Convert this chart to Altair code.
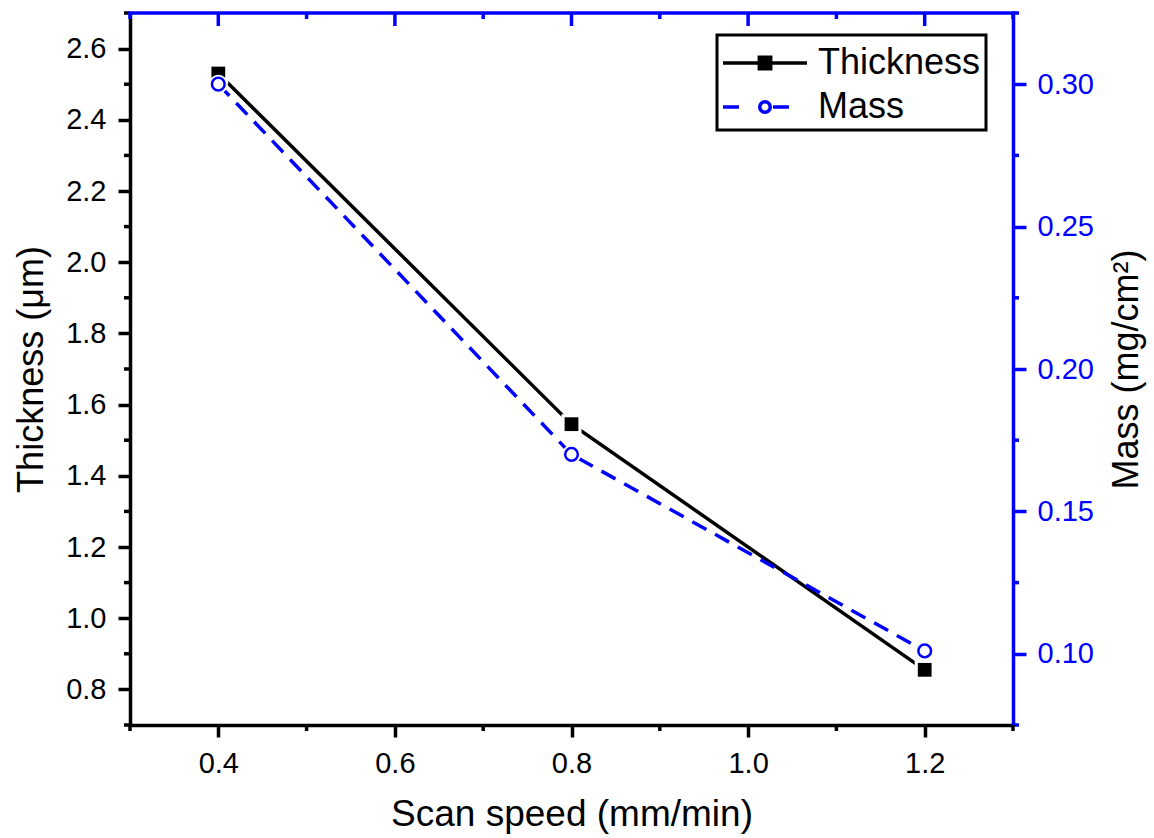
import altair as alt
import pandas as pd

# ---- data ----
scan_speed = [0.4, 0.8, 1.2]
thickness = [2.53, 1.545, 0.855]
mass = [0.300, 0.170, 0.101]
series_names = ["Thickness", "Mass"]

x_ticks = [0.4, 0.6, 0.8, 1.0, 1.2]
x_minor = [0.3, 0.5, 0.7, 0.9, 1.1, 1.3]
y_left_ticks = [0.8, 1.0, 1.2, 1.4, 1.6, 1.8, 2.0, 2.2, 2.4, 2.6]
y_left_minor = [0.7, 0.9, 1.1, 1.3, 1.5, 1.7, 1.9, 2.1, 2.3, 2.5, 2.7]
y_right_ticks = [0.10, 0.15, 0.20, 0.25, 0.30]
y_right_minor = [0.075, 0.125, 0.175, 0.225, 0.275, 0.325]

W, H = 883, 712
BLUE = "#0000FF"
FONT = "Liberation Sans"
MAJ, MIN = 12, 6
LBL = 29
AW = 3.5   # axis line width
LW = 3.5   # data line width

thick_df = pd.DataFrame({"speed": scan_speed, "thickness": thickness})
mass_df = pd.DataFrame({"speed": scan_speed, "mass": mass})

xscale = alt.Scale(domain=[0.3, 1.3], nice=False, zero=False)
lscale = alt.Scale(domain=[0.7, 2.7], nice=False, zero=False)
rscale = alt.Scale(domain=[0.075, 0.325], nice=False, zero=False)

x_axis = alt.Axis(values=x_ticks, format=".1f", orient="bottom", grid=False, tickSize=MAJ,
                  tickWidth=AW, domainWidth=AW, domainColor="black", tickColor="black",
                  labelFontSize=LBL, labelPadding=12, labelColor="black", labelFlush=False,
                  title="Scan speed (mm/min)", titleFontSize=37, titleFontWeight="normal",
                  titleColor="black", titleY=100, titleBaseline="alphabetic")
left_axis = alt.Axis(values=y_left_ticks, format=".1f", orient="left", grid=False,
                     tickSize=MAJ, tickWidth=AW,
                     domainWidth=AW, domainColor="black", tickColor="black",
                     labelFontSize=LBL, labelPadding=12, labelColor="black",
                     title="Thickness (μm)", titleFontSize=36, titleFontWeight="normal",
                     titleColor="black", titleX=-80, titleY=H / 2, titleAngle=270,
                     titleBaseline="bottom")
right_axis = alt.Axis(values=y_right_ticks, format=".2f", orient="right", grid=False,
                      tickSize=MAJ + 1, tickWidth=AW, domainWidth=AW, domainColor=BLUE,
                      tickColor=BLUE, labelFontSize=LBL, labelPadding=11, labelColor=BLUE,
                      title="Mass (mg/cm²)", titleFontSize=36, titleFontWeight="normal",
                      titleColor="black", titleX=96, titleY=H / 2, titleAngle=270,
                      titleBaseline="top")

X = alt.X("speed:Q", scale=xscale, axis=x_axis)

# ---- thickness (left axis) ----
tb = alt.Chart(thick_df)
t_line = tb.mark_line(color="black", strokeWidth=LW).encode(
    x=X, y=alt.Y("thickness:Q", scale=lscale, axis=left_axis))
t_halo = tb.mark_point(shape="square", filled=True, color="white", size=400, opacity=1).encode(
    x=X, y=alt.Y("thickness:Q", scale=lscale, axis=None))
t_pts = tb.mark_point(shape="square", filled=True, color="black", size=190, opacity=1).encode(
    x=X, y=alt.Y("thickness:Q", scale=lscale, axis=None))
lminor = alt.Chart(pd.DataFrame({"thickness": y_left_minor})).mark_rule(
    color="black", strokeWidth=AW).encode(
    y=alt.Y("thickness:Q", scale=lscale, axis=None), x=alt.value(-MIN), x2=alt.value(0))

# ---- mass (right axis) ----
mb = alt.Chart(mass_df)
m_line = mb.mark_line(color=BLUE, strokeWidth=LW, strokeDash=[16, 10]).encode(
    x=X, y=alt.Y("mass:Q", scale=rscale, axis=right_axis))
m_halo = mb.mark_point(shape="circle", filled=True, color="white", size=360, opacity=1).encode(
    x=X, y=alt.Y("mass:Q", scale=rscale, axis=None))
m_pts = mb.mark_point(shape="circle", filled=False, fill="white", stroke=BLUE, strokeWidth=2.5,
                      size=160, opacity=1).encode(
    x=X, y=alt.Y("mass:Q", scale=rscale, axis=None))
rminor = alt.Chart(pd.DataFrame({"mass": y_right_minor})).mark_rule(
    color=BLUE, strokeWidth=AW).encode(
    y=alt.Y("mass:Q", scale=rscale, axis=None), x=alt.value(W), x2=alt.value(W + MIN))

# ---- frame top line and extra ticks: top (inward, blue) and bottom minor ----
top_line = alt.Chart(pd.DataFrame({"speed": [0.3]})).mark_rule(color=BLUE, strokeWidth=AW).encode(
    x=alt.value(-AW / 2), x2=alt.value(W + AW / 2), y=alt.value(0))
top_major = alt.Chart(pd.DataFrame({"speed": x_ticks})).mark_rule(color=BLUE, strokeWidth=AW).encode(
    x=X, y=alt.value(0), y2=alt.value(MAJ + 1))
top_minor = alt.Chart(pd.DataFrame({"speed": x_minor})).mark_rule(color=BLUE, strokeWidth=AW).encode(
    x=X, y=alt.value(0), y2=alt.value(MIN))
bot_minor = alt.Chart(pd.DataFrame({"speed": x_minor})).mark_rule(color="black", strokeWidth=AW).encode(
    x=X, y=alt.value(H), y2=alt.value(H + MIN))

# ---- legend ----
thick_sym = "M-2,0H2M-0.27,-0.27H0.27V0.27H-0.27Z"
mass_sym = ("M-2,0H-1.24M0.38,0H1.14M0.25,0A0.25,0.25,0,1,1,-0.25,0"
            "A0.25,0.25,0,1,1,0.25,0")
leg = alt.Legend(title=None, orient="none", legendX=587, legendY=22,
                 symbolSize=1764, symbolStrokeWidth=3.5, symbolOffset=20, labelOffset=30,
                 labelFontSize=36, labelFont=FONT, labelColor="black", labelLimit=400,
                 rowPadding=3, padding=5, strokeColor="black")
legend_layer = alt.Chart(pd.DataFrame({"series": series_names})).transform_filter(
    "false").mark_point(strokeWidth=3.5, opacity=1).encode(
    shape=alt.Shape("series:N", scale=alt.Scale(domain=series_names, range=[thick_sym, mass_sym]),
                    legend=leg),
    stroke=alt.Stroke("series:N", scale=alt.Scale(domain=series_names, range=["black", BLUE]),
                      legend=leg),
    fill=alt.Fill("series:N", scale=alt.Scale(domain=series_names, range=["black", "white"]),
                  legend=leg),
)

chart = alt.layer(t_line, m_line, lminor, rminor, top_line, top_major, top_minor, bot_minor,
                  t_halo, t_pts, m_halo, m_pts, legend_layer).resolve_scale(
    y="independent").properties(
    width=W, height=H,
    autosize=alt.AutoSizeParams(type="none"),
    padding={"left": 130, "top": 13, "right": 1154 - 130 - W, "bottom": 838 - 13 - H},
).configure(font=FONT).configure_view(strokeWidth=0).configure_legend(strokeWidth=3)

chart.save("out.html", embed_options={"renderer": "svg", "actions": False})
